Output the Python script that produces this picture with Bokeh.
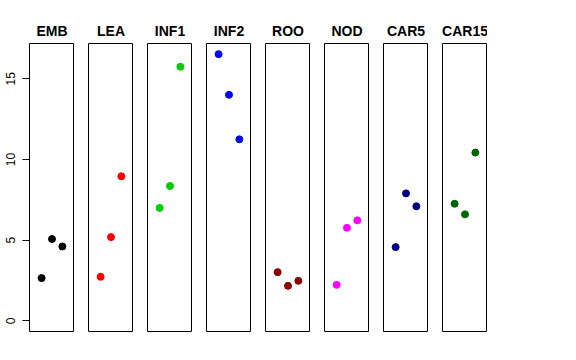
from bokeh.plotting import figure
from bokeh.layouts import row
from bokeh.models import FixedTicker, Range1d
from bokeh.embed import file_html
from bokeh.resources import INLINE

tissues = ["EMB", "LEA", "INF1", "INF2", "ROO", "NOD", "CAR5", "CAR15"]
colors = ["black", "red", "#00CD00", "blue", "#8B0000", "magenta", "#000080", "#006400"]
replicate = [1, 2, 3]
y_ticks = [0, 5, 10, 15]

emb = [2.65, 5.07, 4.61]
lea = [2.73, 5.19, 8.96]
inf1 = [7.00, 8.36, 15.75]
inf2 = [16.53, 14.01, 11.25]
roo = [3.02, 2.17, 2.48]
nod = [2.23, 5.77, 6.23]
car5 = [4.57, 7.90, 7.10]
car15 = [7.26, 6.60, 10.43]
values = [emb, lea, inf1, inf2, roo, nod, car5, car15]

FONT = "Liberation Sans"
figs = []
for i, (name, col, vals) in enumerate(zip(tissues, colors, values)):
    first = i == 0
    p = figure(
        frame_width=45, frame_height=288,
        x_range=Range1d(-0.17, 4.17), y_range=Range1d(-0.66, 17.19),
        output_backend="svg", toolbar_location=None,
        title=name,
        x_axis_location=None,
        y_axis_location="left" if first else None,
        min_border_left=29 if first else 14,
        min_border_right=0, min_border_top=43, min_border_bottom=18,
    )
    p.title.align = "center"
    p.title.text_font = FONT
    p.title.text_font_size = "14px"
    p.title.text_font_style = "bold"
    p.title.text_color = "black"
    p.title.standoff = 10
    p.xgrid.visible = False
    p.ygrid.visible = False
    p.outline_line_color = "black"
    p.outline_line_width = 1
    p.background_fill_color = "white"
    p.border_fill_color = "white"
    if first:
        ax = p.yaxis[0]
        ax.ticker = FixedTicker(ticks=y_ticks)
        ax.major_label_orientation = "vertical"
        ax.major_label_text_font = FONT
        ax.major_label_text_font_size = "12px"
        ax.major_label_text_color = "black"
        ax.major_tick_in = 0
        ax.major_tick_out = 7
        ax.major_tick_line_color = "black"
        ax.minor_tick_line_color = None
        ax.major_label_standoff = 7
        ax.axis_line_color = None
    p.scatter(replicate, vals, size=7, color=col, line_color=col)
    figs.append(p)

layout = row(*figs, spacing=0)
open("out.html", "w").write(file_html(layout, INLINE))
